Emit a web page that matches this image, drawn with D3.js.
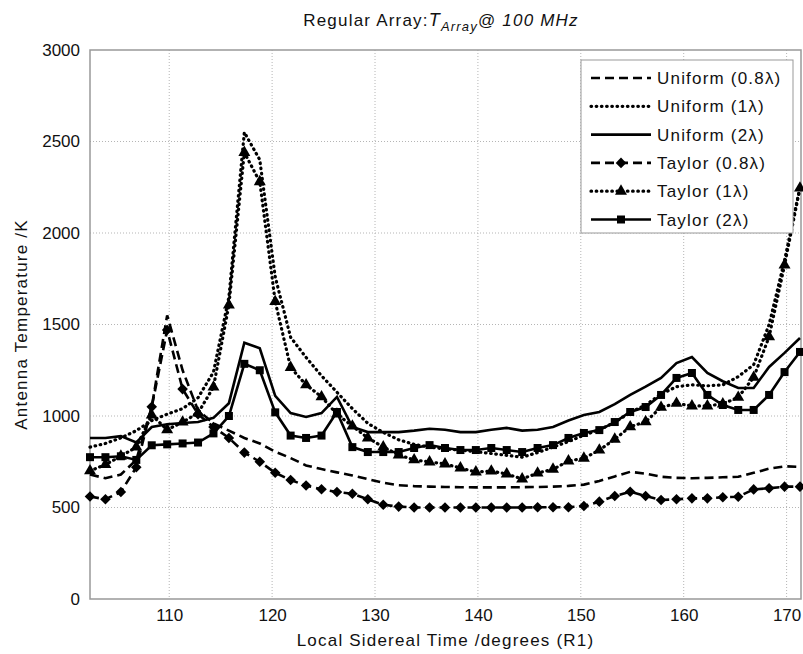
<!DOCTYPE html>
<meta charset="utf-8">
<html>
<head>
<style>
  body { margin: 0; background: #fff; }
  text { font-family: Arial, "Liberation Sans", sans-serif; fill: #111; }
  .lbl { letter-spacing: 1.2px; }
</style>
</head>
<body>
<script src="https://d3js.org/d3.v7.min.js"></script>
<div id="chart"></div>
<script>

// local sidereal time (degrees)
var lst = [102.3,103.8,105.3,106.8,108.3,109.8,111.3,112.8,114.3,115.8,117.3,118.8,120.3,121.8,123.3,124.8,126.3,127.8,129.3,130.8,132.3,133.8,135.3,136.8,138.3,139.8,141.3,142.8,144.3,145.8,147.3,148.8,150.3,151.8,153.3,154.8,156.3,157.8,159.3,160.8,162.3,163.8,165.3,166.8,168.3,169.8,171.3];

// antenna temperatures (K)
var uniform08 = [680,660,680,760,1050,1550,1250,1030,960,920,880,850,805,770,730,710,692,675,655,635,622,617,614,612,611,610,610,610,611,612,614,618,625,645,670,695,685,668,662,660,662,665,668,690,712,725,722];
var uniform1  = [830,850,880,920,975,1010,1040,1100,1240,1650,2550,2400,1760,1430,1320,1220,1130,1040,960,910,870,845,830,820,814,805,795,785,775,800,830,860,895,925,965,1020,1060,1120,1160,1170,1165,1170,1215,1280,1500,1850,2250];
var uniform2  = [880,880,890,855,940,955,962,967,990,1070,1400,1370,1110,1016,995,1016,1104,940,912,912,912,920,930,925,912,912,925,935,920,925,940,975,1005,1022,1065,1115,1160,1208,1289,1322,1235,1190,1153,1153,1268,1345,1426];
var taylor08  = [560,545,585,720,1050,1470,1147,1010,940,880,800,750,690,650,620,600,585,575,545,515,505,500,500,500,500,500,500,500,500,501,501,501,508,532,563,586,563,541,545,550,550,556,559,599,605,614,614];
var taylor1   = [700,735,780,830,1005,925,967,1016,1158,1606,2440,2280,1625,1265,1170,1105,1010,945,880,831,787,760,749,738,716,694,699,683,656,688,709,754,769,814,873,941,969,1047,1069,1055,1055,1066,1102,1211,1433,1825,2245];
var taylor2   = [775,775,780,760,840,845,850,855,905,1000,1285,1250,1020,893,880,893,1022,830,803,803,803,825,841,825,814,814,825,814,803,825,841,880,907,923,967,1022,1049,1115,1208,1235,1115,1060,1033,1033,1115,1240,1350];

var xTicks = [110,120,130,140,150,160,170];
var yTicks = [0,500,1000,1500,2000,2500,3000];

var DASH = "9,5", DOT = "0.6,4.6";
var series = [
  {name: "Uniform (0.8\u03bb)", values: uniform08, dash: DASH, marker: null},
  {name: "Uniform (1\u03bb)",   values: uniform1,  dash: DOT,  marker: null},
  {name: "Uniform (2\u03bb)",   values: uniform2,  dash: null, marker: null},
  {name: "Taylor (0.8\u03bb)",  values: taylor08,  dash: DASH, marker: "diamond"},
  {name: "Taylor (1\u03bb)",    values: taylor1,   dash: DOT,  marker: "triangle"},
  {name: "Taylor (2\u03bb)",    values: taylor2,   dash: null, marker: "square"}
];

var margin = {top: 50, right: 2, bottom: 55, left: 90},
    W = 803, H = 654,
    width = W - margin.left - margin.right,
    height = H - margin.top - margin.bottom;

var svg = d3.select("#chart").append("svg")
    .attr("width", W).attr("height", H);

var g = svg.append("g")
    .attr("transform", "translate(" + margin.left + "," + margin.top + ")");

var x = d3.scaleLinear().domain([102.3, 171.4]).range([0, width]);
var y = d3.scaleLinear().domain([0, 3000]).range([height, 0]);

// grid
g.append("g").selectAll("line").data(xTicks).enter().append("line")
    .attr("x1", d => x(d)).attr("x2", d => x(d))
    .attr("y1", 0).attr("y2", height)
    .attr("stroke", "#b5b5b5").attr("stroke-dasharray", "1,2");
g.append("g").selectAll("line").data(yTicks.slice(1, -1)).enter().append("line")
    .attr("x1", 0).attr("x2", width)
    .attr("y1", d => y(d)).attr("y2", d => y(d))
    .attr("stroke", "#b5b5b5").attr("stroke-dasharray", "1,2");

// axes
var xAxis = g.append("g")
    .attr("transform", "translate(0," + height + ")")
    .call(d3.axisBottom(x).tickValues(xTicks).tickSize(0).tickPadding(10));
var yAxis = g.append("g")
    .call(d3.axisLeft(y).tickValues(yTicks).tickFormat(d3.format("d")).tickSize(0).tickPadding(10));
[xAxis, yAxis].forEach(function(a) {
  a.select(".domain").remove();
  a.selectAll("text").style("font-size", "17px").attr("fill", "#111")
    .style("font-family", "Arial, 'Liberation Sans', sans-serif");
});

// frame
g.append("rect").attr("width", width).attr("height", height)
    .attr("fill", "none").attr("stroke", "#999").attr("stroke-width", 1.5);

// lines
var line = d3.line()
    .x(function(d, i) { return x(lst[i]); })
    .y(function(d) { return y(d); });

function symbolFor(m) {
  if (m === "diamond") return d3.symbol().type(d3.symbolSquare).size(56)();
  if (m === "triangle") return d3.symbol().type(d3.symbolTriangle).size(62)();
  return d3.symbol().type(d3.symbolSquare).size(64)();
}

series.forEach(function(s) {
  g.append("path")
    .datum(s.values)
    .attr("d", line)
    .attr("fill", "none")
    .attr("stroke", "#000")
    .attr("stroke-width", s.dash === DOT ? 3.2 : 2.6)
    .attr("stroke-dasharray", s.dash)
    .attr("stroke-linecap", s.dash === DOT ? "round" : "butt");
  if (s.marker) {
    g.append("g").selectAll("path").data(s.values).enter().append("path")
      .attr("d", symbolFor(s.marker))
      .attr("transform", function(d, i) {
        return "translate(" + x(lst[i]) + "," + y(d) + ")" + (s.marker === "diamond" ? " rotate(45)" : "");
      })
      .attr("fill", "#000");
  }
});

// title
var title = svg.append("text")
    .attr("class", "lbl")
    .attr("x", 441).attr("y", 26)
    .attr("text-anchor", "middle")
    .style("font-size", "17px");
title.append("tspan").text("Regular Array:");
title.append("tspan").style("font-style", "italic").style("font-size", "18px").text("T");
title.append("tspan").style("font-style", "italic").style("font-size", "13px").attr("dy", 5).text("Array");
title.append("tspan").attr("dy", -5).text("@ ");
title.append("tspan").style("font-style", "italic").text("100 MHz");

// axis labels
svg.append("text")
    .attr("class", "lbl")
    .attr("x", margin.left + width / 2).attr("y", 646)
    .attr("text-anchor", "middle")
    .style("font-size", "17px")
    .text("Local Sidereal Time /degrees (R1)");
svg.append("text")
    .attr("class", "lbl")
    .attr("transform", "translate(27," + (margin.top + height / 2) + ") rotate(-90)")
    .attr("text-anchor", "middle")
    .style("font-size", "17px")
    .text("Antenna Temperature /K");

// legend
var lg = svg.append("g").attr("transform", "translate(581,60)");
lg.append("rect").attr("width", 212).attr("height", 173)
    .attr("fill", "#fff").attr("stroke", "#999").attr("stroke-width", 1);
series.forEach(function(s, i) {
  var yy = 18 + i * 28.3;
  lg.append("line")
    .attr("x1", 10).attr("x2", 70).attr("y1", yy).attr("y2", yy)
    .attr("stroke", "#000").attr("stroke-width", s.dash === DOT ? 3.2 : 2.6)
    .attr("stroke-dasharray", s.dash)
    .attr("stroke-linecap", s.dash === DOT ? "round" : "butt");
  if (s.marker) {
    lg.append("path").attr("d", symbolFor(s.marker))
      .attr("transform", "translate(40," + yy + ")" + (s.marker === "diamond" ? " rotate(45)" : ""))
      .attr("fill", "#000");
  }
  lg.append("text").attr("class", "lbl").attr("x", 76).attr("y", yy + 6)
    .style("font-size", "17px").text(s.name);
});
</script>
</body>
</html>
